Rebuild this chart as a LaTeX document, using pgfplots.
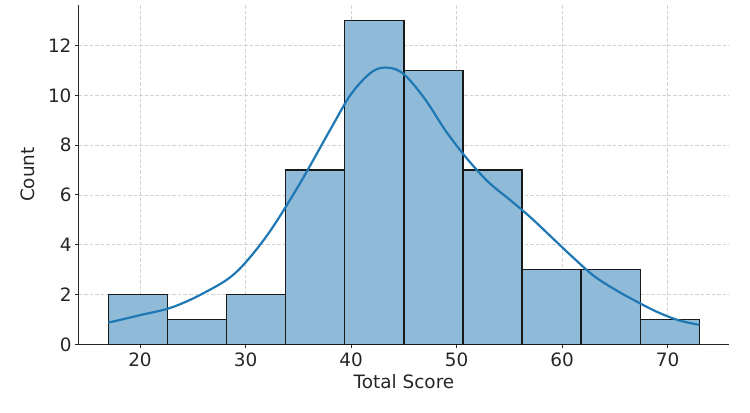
\documentclass[border=0pt]{standalone}
\usepackage{pgfplots}
\pgfplotsset{compat=1.18}
\usepackage{fontspec}
\setmainfont{DejaVu Sans}
\definecolor{mplblue}{HTML}{1F77B4}
\definecolor{barfill}{HTML}{8FBBD9}
\begin{document}
\begin{tikzpicture}
\begin{axis}[
  name=a,
  scale only axis,
  width=650bp, height=339.6bp,
  xmin=14.22, xmax=75.81,
  ymin=0, ymax=13.64,
  axis x line*=bottom, axis y line*=left,
  axis line style={-, line width=1bp, black!85},
  xtick={20,30,40,50,60,70},
  ytick={0,2,4,6,8,10,12},
  tick align=outside,
  major tick length=4bp,
  tick style={line width=1bp, black!85},
  grid=major,
  major grid style={gray!35, dash pattern=on 3.5bp off 2bp, line width=0.7bp},
  /pgf/number format/assume math mode=true,
  tick label style={font=\fontsize{18.5}{21}\selectfont, text=black!85},
  label style={font=\fontsize{18.5}{21}\selectfont, text=black!85},
  xticklabel style={yshift=-1bp},
  xlabel={Total Score},
  ylabel={Count},
  xlabel style={yshift=-1bp},
  ylabel style={yshift=6bp},
]
\addplot[ybar interval, fill=barfill, draw=black!90, line width=1.5bp] coordinates {
(17,2) (22.6,1) (28.2,2) (33.8,7) (39.4,13) (45,11) (50.6,7) (56.2,3) (61.8,3) (67.4,1) (73,1)
};
\addplot[mplblue, line width=2.2bp, smooth, tension=0.55] coordinates {
(17.0,0.87) (20.0,1.17) (23.0,1.48) (26.0,2.05) (29.0,2.85) (32.0,4.35) (35.0,6.35)
(38.0,8.6) (40.0,10.05) (42.0,10.95) (43.5,11.11) (45.0,10.85) (47.0,9.85) (49.0,8.55)
(51.0,7.45) (53.0,6.52) (55.0,5.82) (57.0,5.1) (59.0,4.3) (61.0,3.5) (63.0,2.75)
(65.0,2.2) (67.0,1.73) (69.0,1.3) (71.0,0.97) (73.0,0.78)
};
\end{axis}
\pgfresetboundingbox
\path[use as bounding box] ([xshift=-79bp,yshift=-68.7bp]a.south west) rectangle ([xshift=21bp,yshift=4.7bp]a.north east);
\end{tikzpicture}
\end{document}
